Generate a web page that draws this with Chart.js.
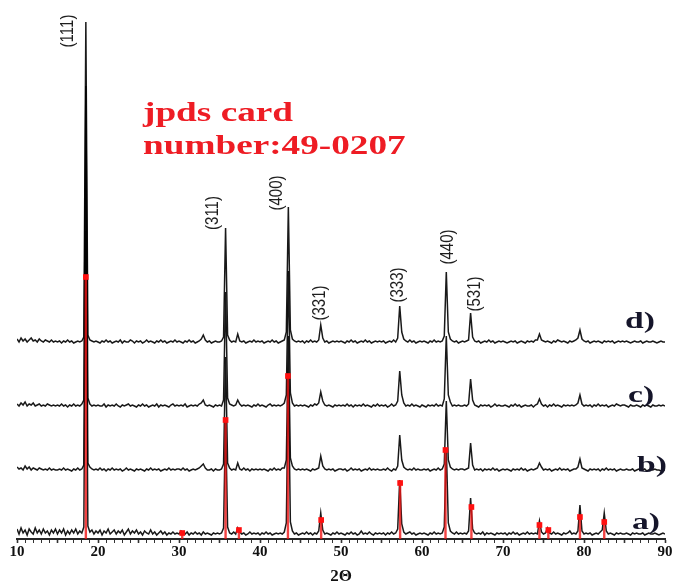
<!DOCTYPE html>
<html>
<head>
<meta charset="utf-8">
<script src="https://cdn.jsdelivr.net/npm/chart.js@4.4.1/dist/chart.umd.min.js"></script>
<style>
  html, body { margin: 0; padding: 0; background: #fff; }
  #xrd { display: block; }
</style>
</head>
<body>
<canvas id="xrd" width="676" height="585"></canvas>
<script>
// XRD patterns a)-d), 2-theta from 10 to 90 in 0.25 deg steps (321 points each)
// intensity in arbitrary units above each pattern's own baseline
const patternA = [
  7,2,8,3,6, 1,7,4,2,8, 3,6,2,7,3, 5,1,6,3,7,      // 10-15
  2,6,3,7,1, 5,2,6,3,7, 2,5,3,9,305, 10,4,6,2,5,   // 15-20
  3,6,1,5,3, 7,2,4,6,2, 5,3,6,1,4, 7,2,5,3,6,      // 20-25
  2,4,1,5,3, 2,6,2,4,1, 3,5,2,4,1, 3,2,4,2,3,      // 25-30
  2,5,3,2,4, 1,3,2,4,2, 3,1,4,2,3, 2,1,3,2,3,      // 30-35
  2,3,8,118,9, 3,2,4,2,8, 4,2,3,1,2, 4,2,3,2,3,    // 35-40
  1,3,2,4,2, 3,1,2,3,2, 3,2,4,13,158, 14,5,2,3,1,  // 40-45
  2,3,2,4,2, 3,1,3,2,5, 23,6,2,3,2, 1,3,2,4,2,     // 45-50
  3,2,1,3,2, 4,2,3,1,2, 5,2,3,2,4, 2,1,3,2,3,      // 50-55
  2,3,1,3,2, 4,2,3,7,56, 12,4,2,3,4, 2,3,1,2,3,    // 55-60
  2,3,2,1,3, 2,4,2,3,2, 3,9,88,13,5, 3,2,4,2,3,    // 60-65
  2,3,2,5,38, 7,3,2,3,2, 4,1,3,2,3, 2,1,3,2,3,     // 65-70
  2,3,1,3,2, 4,2,3,1,2, 3,2,4,2,3, 2,3,2,15,4,     // 70-75
  2,3,8,3,2, 4,2,3,2,1, 3,2,3,5,2, 3,2,5,31,5,     // 75-80
  2,3,2,3,1, 2,3,2,4,6, 23,5,2,3,2, 1,3,2,3,2,     // 80-85
  2,3,2,1,3, 2,3,2,2,3, 1,2,3,2,2, 3,2,1,2,3,      // 85-90
  2
];
const patternB = [
  5,3,4,2,6, 3,5,2,4,3, 2,4,3,2,3, 2,4,2,3,2,
  2,3,2,4,2, 3,2,1,3,2, 4,2,3,7,322, 9,5,3,2,3,
  2,4,2,3,1, 3,2,4,2,3, 2,3,1,2,4, 2,3,2,1,3,
  2,3,2,1,3, 2,4,2,3,2, 3,1,2,3,2, 4,2,3,2,3,
  3,2,4,2,3, 1,2,3,2,3, 4,6,8,4,2, 2,3,1,3,2,
  2,3,8,115,9, 4,2,3,2,9, 3,2,4,2,3, 1,3,2,3,2,
  3,2,3,2,1, 3,2,4,2,3, 2,4,4,12,136, 14,6,3,2,3,
  2,3,2,3,2, 1,3,2,3,4, 16,6,3,2,3, 2,3,1,2,3,
  3,2,3,1,2, 4,2,3,2,3, 1,2,3,2,4, 2,3,2,3,2,
  2,3,2,4,2, 1,3,2,6,37, 12,5,3,2,3, 2,4,2,3,2,
  2,3,2,3,1, 2,3,2,4,2, 3,8,71,12,5, 3,2,3,2,3,
  3,2,3,4,29, 7,2,3,2,3, 1,3,2,3,2, 4,2,3,1,2,
  3,2,3,2,1, 3,2,3,2,4, 2,3,1,2,3, 2,3,4,9,5,
  2,3,2,3,1, 2,3,2,4,2, 3,2,3,1,2, 3,3,5,13,4,
  3,2,1,3,2, 3,2,3,1,3, 2,4,2,3,2, 3,1,2,3,2,
  2,3,2,2,3, 1,2,3,2,2, 3,1,2,3,2, 3,2,2,1,2,
  2
];
const patternC = [
  4,2,5,3,6, 2,4,3,5,2, 3,4,2,3,2, 4,3,2,3,2,
  3,2,4,2,3, 1,3,2,4,2, 3,2,4,8,322, 10,4,2,3,2,
  3,2,2,4,1, 3,2,3,2,4, 2,1,3,2,3, 4,2,3,2,1,
  3,2,4,2,3, 1,2,3,2,4, 1,3,2,3,2, 1,3,4,2,3,
  2,3,2,4,1, 2,3,2,3,2, 4,5,8,3,2, 3,2,1,3,2,
  3,2,8,116,10, 4,3,2,3,8, 4,2,3,2,3, 2,1,3,2,4,
  2,3,2,1,3, 4,2,3,2,3, 2,3,5,13,137, 15,5,2,3,2,
  3,2,3,2,1, 3,2,4,3,5, 16,7,3,2,3, 2,1,3,2,3,
  2,3,2,4,2, 3,1,3,2,3, 2,4,2,3,2, 1,3,2,4,2,
  3,2,3,1,2, 4,2,3,7,37, 13,5,2,3,2, 4,2,3,2,1,
  3,2,1,3,2, 3,2,4,2,3, 2,9,72,13,6, 2,3,2,3,2,
  2,3,2,4,29, 8,3,2,1,3, 2,3,2,3,1, 2,4,2,3,2,
  2,3,2,1,3, 2,4,2,3,1, 2,3,2,2,3, 1,3,4,9,4,
  2,3,1,3,2, 4,2,3,2,1, 3,2,3,2,3, 2,3,5,13,4,
  2,3,2,3,1, 3,2,4,2,3, 2,3,1,2,3, 2,4,3,2,3,
  3,2,1,3,2, 2,3,2,1,3, 2,3,2,1,3, 2,2,3,2,3,
  2
];
const patternD = [
  5,2,6,3,5, 2,4,6,3,4, 2,5,3,2,4, 3,2,4,2,3,
  2,3,1,3,2, 4,2,3,1,2, 3,2,3,7,322, 9,4,3,2,3,
  2,1,3,2,4, 2,3,1,2,3, 2,4,1,3,2, 2,4,3,1,3,
  2,3,1,2,4, 2,3,2,1,3, 2,4,2,3,1, 2,3,2,4,2,
  3,2,1,3,2, 4,2,3,1,2, 3,5,9,4,2, 3,1,2,3,2,
  2,3,7,116,9, 4,2,3,2,10, 3,2,3,1,2, 3,2,4,2,3,
  2,3,1,2,3, 2,4,2,3,1, 2,3,4,12,137, 14,5,3,2,3,
  2,3,1,3,2, 4,2,3,2,4, 19,6,2,3,1, 2,3,2,3,2,
  3,2,1,3,2, 4,2,3,1,2, 3,2,4,2,3, 1,2,3,2,3,
  2,3,1,2,3, 2,4,2,6,38, 12,5,3,2,4, 2,3,1,2,3,
  2,3,2,1,3, 2,4,2,3,2, 3,8,72,12,5, 3,2,3,1,2,
  3,2,3,4,31, 7,3,2,3,1, 2,3,2,4,2, 3,1,2,3,2,
  3,2,1,2,3, 2,3,1,2,3, 2,1,3,2,3, 2,4,4,10,4,
  3,2,3,2,1, 3,2,4,3,2, 3,2,1,3,2, 3,4,6,14,5,
  3,2,3,1,2, 3,2,3,2,1, 3,2,3,2,3, 1,2,3,2,3,
  2,3,2,1,2, 3,2,2,3,1, 2,3,2,2,3, 2,1,2,3,2,
  2
];
// vertical stacking offsets of the patterns (a.u.)
const patternOffsets = [3, 67, 131, 195];
const patternNames = ['a)', 'b)', 'c)', 'd)'];

// JCPDS reference card 49-0207 sticks
const cardAngles  = [18.5, 30.4, 35.75, 37.4, 43.45, 47.55, 57.3, 62.9, 66.1, 74.5, 75.6, 79.5, 82.5];
const cardHeights = [262, 6, 119, 9, 163, 19, 56, 89, 32, 14, 9, 22, 17];

// Miller index labels and where they sit (2-theta, a.u.)
const hklLabels  = ['(111)', '(311)', '(400)', '(331)', '(333)', '(440)', '(531)'];
const hklAngles  = [16.3, 34.2, 42.1, 47.4, 57.0, 63.2, 66.5];
const hklHeights = [508, 326, 346, 236, 254, 292, 245];

const angles = [];
for (let i = 0; i < patternD.length; i++) angles.push(10 + i * 0.25);

const toPoints = (vals, offset) => vals.map((v, i) => ({ x: angles[i], y: v + offset }));

const cardPoints = [];
cardAngles.forEach((a, i) => {
  cardPoints.push({ x: a, y: 0 }, { x: a, y: cardHeights[i] }, { x: a, y: null });
});

const traceStyle = {
  borderColor: 'rgba(0,0,0,0.9)',
  borderWidth: 1.5,
  pointRadius: 0,
  tension: 0,
  fill: false
};

const annotations = {
  id: 'annotations',
  afterDatasetsDraw(chart) {
    const { ctx, scales: { x, y } } = chart;
    ctx.save();

    // Miller indices, rotated
    ctx.fillStyle = '#1e1e1e';
    ctx.font = '15px "Liberation Sans", Arial, sans-serif';
    ctx.textAlign = 'center';
    ctx.textBaseline = 'middle';
    hklLabels.forEach((t, i) => {
      ctx.save();
      ctx.translate(x.getPixelForValue(hklAngles[i]), y.getPixelForValue(hklHeights[i]));
      ctx.scale(1.2, 1);
      ctx.rotate(-Math.PI / 2);
      ctx.fillText(t, 0, 0);
      ctx.restore();
    });

    // card note
    ctx.fillStyle = '#ee1c24';
    ctx.font = 'bold 28px "Liberation Serif", "Times New Roman", serif';
    ctx.textAlign = 'left';
    ctx.textBaseline = 'alphabetic';
    [['jpds card', 121], ['number:49-0207', 154]].forEach(([t, by]) => {
      ctx.save();
      ctx.translate(143, by);
      ctx.scale(1.33, 1);
      ctx.fillText(t, 0, 0);
      ctx.restore();
    });

    // pattern names
    ctx.fillStyle = '#15152a';
    ctx.font = 'bold 24px "Liberation Serif", "Times New Roman", serif';
    const namePos = [[632, 529], [637, 472], [628, 402], [625, 328]];
    patternNames.forEach((t, i) => {
      ctx.save();
      ctx.translate(namePos[i][0], namePos[i][1]);
      ctx.scale(1.4, 1);
      ctx.fillText(t, 0, 0);
      ctx.restore();
    });
    ctx.restore();
  }
};

new Chart(document.getElementById('xrd'), {
  type: 'line',
  data: {
    datasets: [
      {
        label: 'JCPDS 49-0207',
        data: cardPoints,
        borderColor: 'rgba(238,20,20,0.8)',
        borderWidth: 2.4,
        spanGaps: false,
        pointStyle: 'rect',
        pointRadius: ctx => (ctx.raw && ctx.raw.y > 0 ? 4 : 0),
        pointBackgroundColor: '#ff1010',
        pointBorderWidth: 0
      },
      Object.assign({ label: 'd', data: toPoints(patternD, patternOffsets[3]) }, traceStyle),
      Object.assign({ label: 'c', data: toPoints(patternC, patternOffsets[2]) }, traceStyle),
      Object.assign({ label: 'b', data: toPoints(patternB, patternOffsets[1]) }, traceStyle),
      Object.assign({ label: 'a', data: toPoints(patternA, patternOffsets[0]) }, traceStyle)
    ]
  },
  options: {
    responsive: false,
    animation: false,
    layout: { padding: { left: 17, right: 11, top: 0, bottom: 0 } },
    plugins: { legend: { display: false }, tooltip: { enabled: false } },
    scales: {
      x: {
        type: 'linear',
        min: 10,
        max: 90,
        offset: false,
        afterFit: scale => { scale.height = 46; },
        border: { display: true, color: '#262626', width: 2 },
        grid: {
          drawOnChartArea: false,
          tickLength: 4,
          tickColor: '#333',
          tickWidth: ctx => (ctx.tick && ctx.tick.value % 5 === 0 ? 1.6 : 1)
        },
        ticks: {
          stepSize: 1,
          autoSkip: false,
          maxRotation: 0,
          padding: 0,
          color: '#111',
          font: { family: '"Liberation Serif", "Times New Roman", serif', size: 15, weight: 'bold' },
          callback: v => (v % 10 === 0 ? v : '')
        },
        title: {
          display: true,
          text: '2Θ',
          color: '#111',
          padding: 0,
          font: { family: '"Liberation Serif", "Times New Roman", serif', size: 17, weight: 'bold', lineHeight: 1 }
        }
      },
      y: {
        display: false,
        min: 0,
        max: 539
      }
    }
  },
  plugins: [annotations]
});
</script>
</body>
</html>
